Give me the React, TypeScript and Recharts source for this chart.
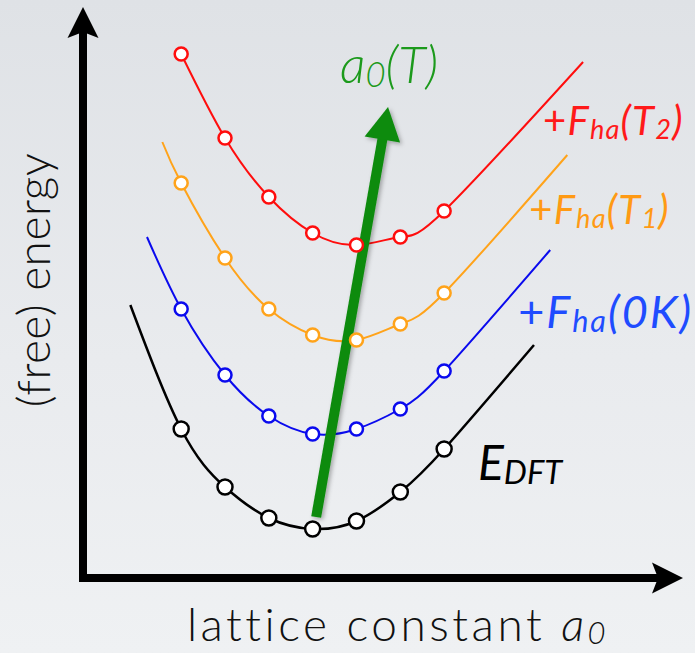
import React from "react";
import { LineChart, Line, XAxis, YAxis, ReferenceLine } from "recharts";

// sampled lattice constants (arbitrary units) and energies at each of them
const LATTICE = [0, 1, 2, 3, 4, 5, 6];
const E_DFT = [14.9, 9.1, 6.0, 4.9, 5.7, 8.6, 12.9];
const F_HA_0K = [26.9, 20.3, 16.2, 14.4, 14.9, 16.9, 20.7];
const F_HA_T1 = [39.5, 32.0, 26.9, 24.3, 23.8, 25.4, 28.5];
const F_HA_T2 = [52.4, 44.0, 38.1, 34.5, 33.3, 34.1, 36.7];

// where each fitted curve is drawn out to, beyond the samples: [a0, energy]
const E_DFT_ENDS = [[-1.16, 27.3], [8.05, 23.3]];
const F_HA_0K_ENDS = [[-0.78, 34.1], [8.42, 32.8]];
const F_HA_T1_ENDS = [[-0.43, 43.6], [8.81, 42.3]];
const F_HA_T2_ENDS = [null, [9.17, 51.6]];

// shift of the equilibrium lattice constant with temperature
const A0_TREND = [[3.08, 6.1], [4.72, 47.1]];

const X_DOMAIN = [-2.24, 11.45];
const Y_DOMAIN = [0, 57.1];

const FONT = "Lato, 'Open Sans', sans-serif";

type Pt = { a: number; e: number; sample: boolean };

function buildSeries(values: number[], ends: (number[] | null)[]): Pt[] {
  const pts: Pt[] = LATTICE.map((a, i) => ({ a, e: values[i], sample: true }));
  if (ends[0]) pts.unshift({ a: ends[0][0], e: ends[0][1], sample: false });
  if (ends[1]) pts.push({ a: ends[1][0], e: ends[1][1], sample: false });
  return pts;
}

type Part = { t: string; italic?: boolean; sub?: boolean };

const SERIES = [
  {
    key: "t2",
    data: buildSeries(F_HA_T2, F_HA_T2_ENDS),
    line: "#ff0d0d",
    text: "#ff1a1a",
    r: 6.5,
    width: 2,
    size: 40,
    spacing: 1.2,
    dx: -40,
    dy: 73,
    parts: [
      { t: "+" },
      { t: "F", italic: true },
      { t: "ha", italic: true, sub: true },
      { t: "(T", italic: true },
      { t: "2", italic: true, sub: true },
      { t: ")", italic: true },
    ] as Part[],
  },
  {
    key: "t1",
    data: buildSeries(F_HA_T1, F_HA_T1_ENDS),
    line: "#ffa31a",
    text: "#ff9a14",
    r: 6.5,
    width: 2,
    size: 40,
    spacing: 1.2,
    dx: -38,
    dy: 69,
    parts: [
      { t: "+" },
      { t: "F", italic: true },
      { t: "ha", italic: true, sub: true },
      { t: "(T", italic: true },
      { t: "1", italic: true, sub: true },
      { t: ")", italic: true },
    ] as Part[],
  },
  {
    key: "0k",
    data: buildSeries(F_HA_0K, F_HA_0K_ENDS),
    line: "#0a0aee",
    text: "#1f4cff",
    r: 6.5,
    width: 2,
    size: 45,
    spacing: 2,
    dx: -32,
    dy: 78,
    parts: [
      { t: "+" },
      { t: "F", italic: true },
      { t: "ha", italic: true, sub: true },
      { t: "(0K)", italic: true },
    ] as Part[],
  },
  {
    key: "dft",
    data: buildSeries(E_DFT, E_DFT_ENDS),
    line: "#000000",
    text: "#000000",
    r: 7.5,
    width: 2.5,
    size: 48,
    spacing: 0,
    dx: -56,
    dy: 135,
    parts: [
      { t: "E", italic: true },
      { t: "DFT", italic: true, sub: true },
    ] as Part[],
  },
];

function RichText({ x, y, size, color, parts, weight = 400, subShift = 4, spacing = 0 }: any) {
  let shifted = false;
  return (
    <text
      x={x}
      y={y}
      fill={color}
      fontSize={size}
      fontFamily={FONT}
      fontWeight={weight}
      letterSpacing={spacing}
    >
      {parts.map((p: Part, i: number) => {
        let dy = 0;
        if (p.sub && !shifted) {
          dy = subShift;
          shifted = true;
        } else if (!p.sub && shifted) {
          dy = -subShift;
          shifted = false;
        }
        return (
          <tspan
            key={i}
            dy={dy}
            fontStyle={p.italic ? "italic" : "normal"}
            fontSize={p.sub ? size * 0.68 : size}
          >
            {p.t}
          </tspan>
        );
      })}
    </text>
  );
}

function arrowGeom(x1: number, y1: number, x2: number, y2: number, headLen: number, headHalf: number, notch: number, extend: number) {
  const len = Math.hypot(x2 - x1, y2 - y1);
  const ux = (x2 - x1) / len;
  const uy = (y2 - y1) / len;
  const nx = -uy;
  const ny = ux;
  const bx = x2 - ux * headLen;
  const by = y2 - uy * headLen;
  const mx = x2 - ux * (headLen - notch);
  const my = y2 - uy * (headLen - notch);
  return {
    sx: x1 - ux * extend,
    sy: y1 - uy * extend,
    ex: mx + ux * 1,
    ey: my + uy * 1,
    head: `${x2},${y2} ${bx + nx * headHalf},${by + ny * headHalf} ${mx},${my} ${bx - nx * headHalf},${by - ny * headHalf}`,
  };
}

function AxisArrow(props: any) {
  const { x1, y1, x2, y2, title } = props;
  const g = arrowGeom(x1, y1, x2, y2, 31, 15.5, 6, 4);
  return (
    <g>
      <line x1={g.sx} y1={g.sy} x2={g.ex} y2={g.ey} stroke="#000" strokeWidth={8} />
      <polygon points={g.head} fill="#000" />
      {title}
    </g>
  );
}

function TrendArrow(props: any) {
  const { x1, y1, x2, y2 } = props;
  const g = arrowGeom(x1, y1, x2, y2, 33, 18, 0, 0);
  return (
    <g>
      <defs>
        <filter id="trendShadow" x="-50%" y="-10%" width="200%" height="120%">
          <feDropShadow dx="2" dy="2" stdDeviation="2" floodColor="#000" floodOpacity="0.3" />
        </filter>
      </defs>
      <g filter="url(#trendShadow)">
        <line x1={g.sx} y1={g.sy} x2={g.ex} y2={g.ey} stroke="#0f8b0f" strokeWidth={10} />
        <polygon points={g.head} fill="#0f8b0f" />
      </g>
      <RichText
        x={x2 - 48}
        y={y2 - 24}
        size={51}
        weight={300}
        color="#1c9a1c"
        subShift={4}
        parts={[
          { t: "a", italic: true },
          { t: "0", italic: true, sub: true },
          { t: "(T)", italic: true },
        ]}
      />
    </g>
  );
}

function makeDot(s: (typeof SERIES)[number]) {
  const last = s.data.length - 1;
  return (p: any) => {
    const { cx, cy, index, payload } = p;
    return (
      <g key={`${s.key}-${index}`}>
        {payload.sample && (
          <circle cx={cx} cy={cy} r={s.r} fill="#ffffff" stroke={s.line} strokeWidth={2.5} />
        )}
        {index === last && (
          <RichText
            x={cx + s.dx}
            y={cy + s.dy}
            size={s.size}
            color={s.text}
            parts={s.parts}
            spacing={s.spacing}
          />
        )}
      </g>
    );
  };
}

export default function App() {
  const xTitle = (
    <text
      x={398}
      y={641}
      textAnchor="middle"
      fill="#111"
      fontSize={46}
      fontFamily={FONT}
      fontWeight={300}
      letterSpacing={3.5}
    >
      lattice constant{" "}
      <tspan fontStyle="italic">a</tspan>
      <tspan fontStyle="italic" fontSize={31} dy={3}>0</tspan>
    </text>
  );
  const yTitle = (
    <text
      x={50}
      y={280}
      textAnchor="middle"
      transform="rotate(-90 50 280)"
      fill="#111"
      fontSize={46}
      fontFamily={FONT}
      fontWeight={300}
      letterSpacing={0.5}
    >
      (free) energy
    </text>
  );

  return (
    <div
      style={{
        position: "absolute",
        left: 0,
        top: 0,
        width: 695,
        height: 653,
        background: "linear-gradient(180deg, #dfe2e6 0%, #e9ebee 55%, #eff1f3 100%)",
      }}
    >
      <LineChart width={695} height={653} margin={{ top: 7, right: 12, bottom: 75, left: 83 }}>
        <XAxis type="number" dataKey="a" domain={X_DOMAIN} hide />
        <YAxis type="number" dataKey="e" domain={Y_DOMAIN} hide />
        <ReferenceLine
          segment={[{ x: X_DOMAIN[0], y: Y_DOMAIN[0] }, { x: X_DOMAIN[0], y: Y_DOMAIN[1] }]}
          ifOverflow="visible"
          shape={(p: any) => <AxisArrow {...p} title={yTitle} />}
        />
        <ReferenceLine
          segment={[{ x: X_DOMAIN[0], y: Y_DOMAIN[0] }, { x: X_DOMAIN[1], y: Y_DOMAIN[0] }]}
          ifOverflow="visible"
          shape={(p: any) => <AxisArrow {...p} title={xTitle} />}
        />
        {SERIES.map((s) => (
          <Line
            key={s.key}
            data={s.data}
            dataKey="e"
            type="natural"
            stroke={s.line}
            strokeWidth={s.width}
            dot={makeDot(s)}
            activeDot={false}
            isAnimationActive={false}
          />
        ))}
        <ReferenceLine
          segment={[
            { x: A0_TREND[0][0], y: A0_TREND[0][1] },
            { x: A0_TREND[1][0], y: A0_TREND[1][1] },
          ]}
          ifOverflow="visible"
          shape={(p: any) => <TrendArrow {...p} />}
        />
      </LineChart>
    </div>
  );
}
